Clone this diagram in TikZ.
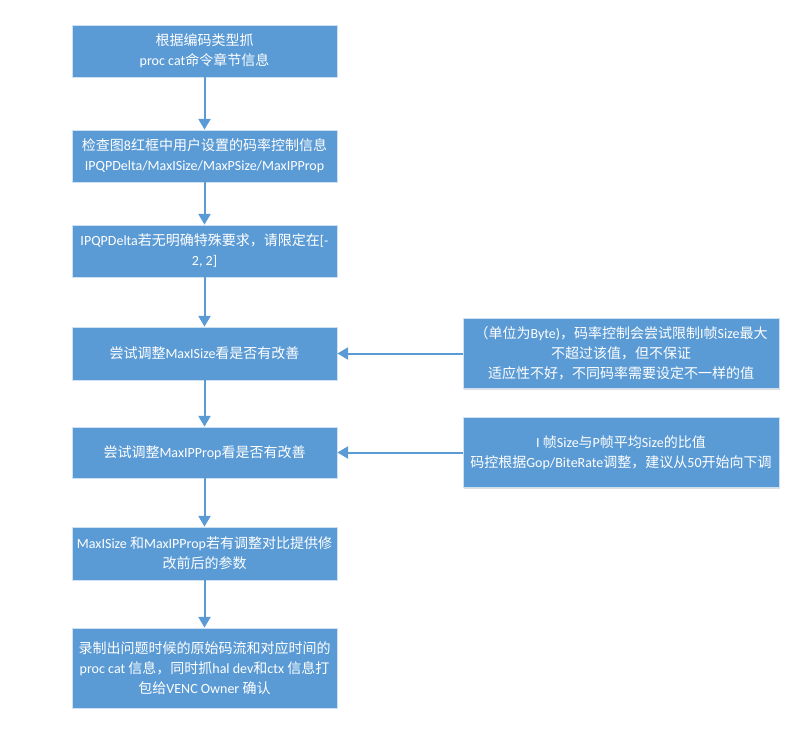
\documentclass[tikz,border=0pt]{standalone}
\usepackage{fontspec}
\setmainfont{Carlito}
\newfontfamily\cjk{Noto Sans CJK SC}
\newcommand\zh[1]{{\cjk #1}}
\usetikzlibrary{arrows.meta,shadows}
\definecolor{boxblue}{HTML}{5B9BD5}
\begin{document}
\begin{tikzpicture}[x=0.75pt,y=-0.75pt,
  box/.style={fill=boxblue, draw=white!70!boxblue, line width=0.6pt, text=white, align=center,
    font=\fontsize{10.5}{15}\selectfont, inner sep=2pt,
    drop shadow={shadow xshift=0.8pt, shadow yshift=-0.8pt, opacity=0.25, fill=gray}},
  mainbox/.style={box, minimum width=198.75pt},
  sidebox/.style={box, minimum width=237pt, minimum height=52.5pt},
  arr/.style={draw=boxblue, line width=1.5pt, -{Triangle[width=9pt,length=8pt]}}]
\useasboundingbox (0,0) rectangle (806,736);
\node[mainbox, minimum height=39pt] (b1) at (204.5,51) {\zh{根据编码类型抓}\\proc cat\zh{命令章节信息}};
\node[mainbox, minimum height=39pt] (b2) at (204.5,156) {\zh{检查图}8\zh{红框中用户设置的码率控制信息}\\IPQPDelta/MaxISize/MaxPSize/MaxIPProp};
\node[mainbox, minimum height=39pt] (b3) at (204.5,251) {IPQPDelta\zh{若无明确特殊要求，请限定在}[-\\2, 2]};
\node[mainbox, minimum height=39.75pt] (b4) at (204.5,353.5) {\zh{尝试调整}MaxISize\zh{看是否有改善}};
\node[mainbox, minimum height=38.25pt] (b5) at (204.5,452.5) {\zh{尝试调整}MaxIPProp\zh{看是否有改善}};
\node[mainbox, minimum height=39.75pt] (b6) at (204.5,553.5) {MaxISize \zh{和}MaxIPProp\zh{若有调整对比提供修}\\\zh{改前后的参数}};
\node[mainbox, minimum height=60pt] (b7) at (204.5,668) {\zh{录制出问题时候的原始码流和对应时间的}\\proc cat \zh{信息，同时抓}hal dev\zh{和}ctx \zh{信息打}\\\zh{包给}VENC Owner \zh{确认}};
\node[sidebox] (r1) at (621,353.5) {\zh{（单位为}Byte)\zh{，码率控制会尝试限制}I\zh{帧}Size\zh{最大}\\\zh{不超过该值，但不保证}\\\zh{适应性不好，不同码率需要设定不一样的值}};
\node[sidebox] (r2) at (621,452.5) {I \zh{帧}Size\zh{与}P\zh{帧平均}Size\zh{的比值}\\\zh{码控根据}Gop/BiteRate\zh{调整，建议从}50\zh{开始向下调}};
\draw[arr] (b1) -- (b2);
\draw[arr] (b2) -- (b3);
\draw[arr] (b3) -- (b4);
\draw[arr] (b4) -- (b5);
\draw[arr] (b5) -- (b6);
\draw[arr] (b6) -- (b7);
\draw[arr] (r1) -- (b4);
\draw[arr] (r2) -- (b5);
\end{tikzpicture}
\end{document}
